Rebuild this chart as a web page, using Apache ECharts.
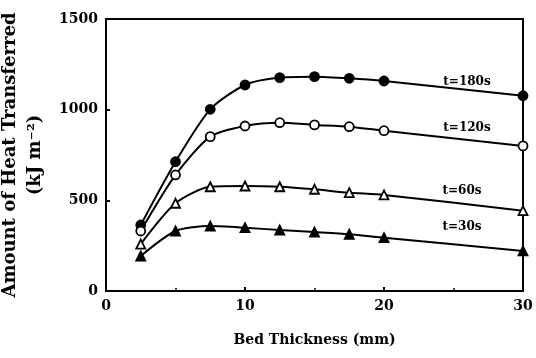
<!DOCTYPE html>
<html><head><meta charset="utf-8">
<script src="https://cdn.jsdelivr.net/npm/echarts/dist/echarts.min.js"></script>
<style>html,body{margin:0;padding:0;background:#fff}#c{width:536px;height:358px}</style>
</head><body><div id="c"></div>
<script>
const thickness = [2.5, 5, 7.5, 10, 12.5, 15, 17.5, 20, 30];
const t180 = [364, 713, 1002, 1136, 1177, 1182, 1173, 1158, 1077];
const t120 = [331, 640, 851, 910, 928, 916, 906, 884, 800];
const t60 = [259, 484, 575, 579, 575, 561, 542, 530, 443];
const t30 = [193, 331, 358, 349, 336, 325, 313, 294, 221];
const seriesNames = ['t=180s', 't=120s', 't=60s', 't=30s'];
const xTicks = [0, 10, 20, 30];
const yTicks = [0, 500, 1000, 1500];

const FONT = 'DejaVu Serif';
const pair = arr => thickness.map((x, i) => [x, arr[i]]);
const mk = (name, data, symbol, filled) => ({
  name, type: 'line', smooth: 0.25, data: pair(data),
  symbol, symbolSize: 9,
  lineStyle: {color: '#000', width: 2},
  itemStyle: {color: filled ? '#000' : '#fff', borderColor: '#000', borderWidth: 1.8},
  z: 3
});
const chart = echarts.init(document.getElementById('c'));
const labelPos = [[467, 82], [467, 128], [462, 191], [462, 227]];
chart.setOption({
  animation: false,
  grid: {left: 106, right: 13, top: 19, bottom: 67, show: true, borderColor: '#000', borderWidth: 2,
         containLabel: false, outerBoundsMode: 'none'},
  xAxis: {
    type: 'value', min: xTicks[0], max: xTicks[xTicks.length - 1], interval: 10,
    axisLine: {lineStyle: {color: '#000', width: 2}},
    axisTick: {inside: true, length: 4, lineStyle: {color: '#000', width: 2}},
    minorTick: {show: true, splitNumber: 2, length: 3, lineStyle: {color: '#000', width: 1.5}},
    splitLine: {show: false},
    axisLabel: {color: '#000', fontFamily: FONT, fontWeight: 'bold', fontSize: 14, margin: 8, formatter: v => String(v)},
    name: 'Bed Thickness (mm)', nameLocation: 'middle', nameGap: 42,
    nameTextStyle: {color: '#000', fontFamily: FONT, fontWeight: 'bold', fontSize: 14}
  },
  yAxis: {
    type: 'value', min: yTicks[0], max: yTicks[yTicks.length - 1], interval: 500,
    axisLine: {show: true, lineStyle: {color: '#000', width: 2}},
    axisTick: {show: true, inside: true, length: 4, lineStyle: {color: '#000', width: 2}},
    splitLine: {show: false},
    axisLabel: {color: '#000', fontFamily: FONT, fontWeight: 'bold', fontSize: 14, margin: 8, formatter: v => String(v)},
    name: 'Amount of Heat Transferred\n(kJ m⁻²)', nameLocation: 'middle', nameGap: 52, nameRotate: 90,
    nameTextStyle: {color: '#000', fontFamily: FONT, fontWeight: 'bold', fontSize: 18, lineHeight: 25}
  },
  series: [
    mk(seriesNames[0], t180, 'circle', true),
    mk(seriesNames[1], t120, 'circle', false),
    mk(seriesNames[2], t60, 'triangle', false),
    mk(seriesNames[3], t30, 'triangle', true)
  ],
  graphic: seriesNames.map((n, i) => ({
    type: 'text', x: labelPos[i][0], y: labelPos[i][1],
    style: {text: n, fill: '#000', font: 'bold 12px "' + FONT + '"', align: 'center', verticalAlign: 'middle'}
  }))
});
</script></body></html>
